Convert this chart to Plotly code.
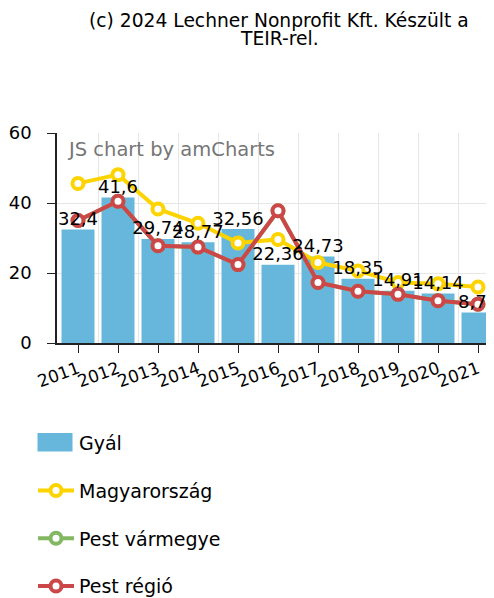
import plotly.graph_objects as go

years = ["2011", "2012", "2013", "2014", "2015", "2016", "2017", "2018", "2019", "2020", "2021"]
gyal = [32.4, 41.6, 29.74, 28.77, 32.56, 22.36, 24.73, 18.35, 14.91, 14.14, 8.73]
magyarorszag = [45.6, 48.1, 38.3, 34.2, 28.6, 29.6, 23.0, 20.6, 17.3, 16.9, 16.0]
pest_varmegye = [35.0, 40.5, 27.8, 27.4, 22.4, 37.8, 17.3, 14.8, 13.9, 12.1, 11.1]
pest_regio = [35.0, 40.5, 27.8, 27.4, 22.4, 37.8, 17.3, 14.8, 13.9, 12.1, 11.1]
title_lines = ["(c) 2024 Lechner Nonprofit Kft. Készült a", "TEIR-rel."]

FONT = "DejaVu Sans, Verdana, sans-serif"
BLUE, YELLOW, GREEN, RED = "#67b7dc", "#fdd400", "#84b761", "#cc4748"

x = list(range(len(years)))
labels = [f"{v:g}".replace(".", ",") for v in gyal]

fig = go.Figure()
fig.add_trace(go.Bar(x=x, y=gyal, name="Gyál", marker=dict(color=BLUE, line=dict(width=0)),
                     width=0.825, legendgroup="a"))

def line_trace(vals, name, color, grp):
    return go.Scatter(x=x, y=vals, name=name, mode="lines+markers", legendgroup=grp,
                      line=dict(color=color, width=4),
                      marker=dict(symbol="circle", size=11, color="white",
                                  line=dict(color=color, width=4)))

fig.add_trace(line_trace(magyarorszag, "Magyarország", YELLOW, "b"))
fig.add_trace(line_trace(pest_varmegye, "Pest vármegye", GREEN, "c"))
fig.add_trace(line_trace(pest_regio, "Pest régió", RED, "d"))

fig.add_trace(go.Scatter(x=x, y=gyal, mode="text", text=labels, textposition="top center",
                         textfont=dict(family=FONT, size=18, color="#000"),
                         showlegend=False, hoverinfo="skip"))

# page is rendered with the default 8px body margin -> work in page pixels, offset by 8
OFF = 8
W, H = 494 - OFF, 598 - OFF
PLOT_L, PLOT_R, PLOT_T, PLOT_B = 57, 494, 133, 343.3   # page pixels
L = PLOT_L - OFF
R = (494 - PLOT_R)
T = PLOT_T - OFF
B = H - (PLOT_B - OFF)
pw = W - L - R
ph = H - T - B
cat_w = 40.0
x_lo = -0.5 - 1.0 / cat_w

def py(page_y):
    return (PLOT_B - page_y) / ph

def px_(page_x):
    return (page_x - PLOT_L) / pw

fig.update_layout(
    width=W, height=H,
    margin=dict(l=L, r=R, t=T, b=B, autoexpand=False),
    paper_bgcolor="white", plot_bgcolor="white",
    font=dict(family=FONT, size=18, color="#000"),
    bargap=0.175,
    showlegend=True,
    legend=dict(orientation="v", xref="container", yref="container",
                x=(33 - OFF) / W, xanchor="left",
                y=1 - (424 - OFF) / H, yanchor="top",
                traceorder="grouped", tracegroupgap=20,
                itemwidth=36, bgcolor="rgba(0,0,0,0)",
                font=dict(family=FONT, size=19, color="#000")),
    xaxis=dict(range=[x_lo, x_lo + pw / cat_w], tickmode="array", tickvals=x, ticktext=years,
               tickangle=-20, ticks="outside", ticklen=8, tickcolor="#222",
               showline=True, linecolor="#222", linewidth=1.5,
               showgrid=False, zeroline=False, automargin=False,
               tickfont=dict(family=FONT, size=17, color="#000"),
               minor=dict(tickmode="array", tickvals=[i - 0.5 for i in x] + [len(x) - 0.5],
                          showgrid=True, gridcolor="#e6e6e6", gridwidth=1, ticks="")),
    yaxis=dict(range=[0, 60], tickmode="array", tickvals=[0, 20, 40, 60],
               ticks="outside", ticklen=8, tickcolor="#222", ticklabelstandoff=12,
               showline=True, linecolor="#222", linewidth=1.5,
               showgrid=False, zeroline=False, automargin=False,
               tickfont=dict(family=FONT, size=18, color="#000"),
               minor=dict(tickmode="array", tickvals=[20, 40], showgrid=True,
                          gridcolor="#e6e6e6", gridwidth=1, ticks="")),
    annotations=[
        dict(text="JS chart by amCharts", xref="paper", yref="paper",
             x=px_(65), y=py(150), xanchor="left", yanchor="middle",
             showarrow=False, font=dict(family=FONT, size=19.5, color="#767676")),
        dict(text=title_lines[0], xref="paper", yref="paper",
             x=px_(279), y=py(20.5), xanchor="center", yanchor="middle",
             showarrow=False, font=dict(family=FONT, size=18.7, color="#000")),
        dict(text=title_lines[1], xref="paper", yref="paper",
             x=px_(279), y=py(38.5), xanchor="center", yanchor="middle",
             showarrow=False, font=dict(family=FONT, size=18.7, color="#000")),
    ],
)

# larger swatch for the bar legend entry (amCharts-style rectangle)
fig.add_shape(type="rect", xref="paper", yref="paper",
              x0=px_(37.5), x1=px_(72.5),
              y0=py(452), y1=py(433.5),
              fillcolor=BLUE, line=dict(width=0), layer="above")

fig.write_html("out.html")
